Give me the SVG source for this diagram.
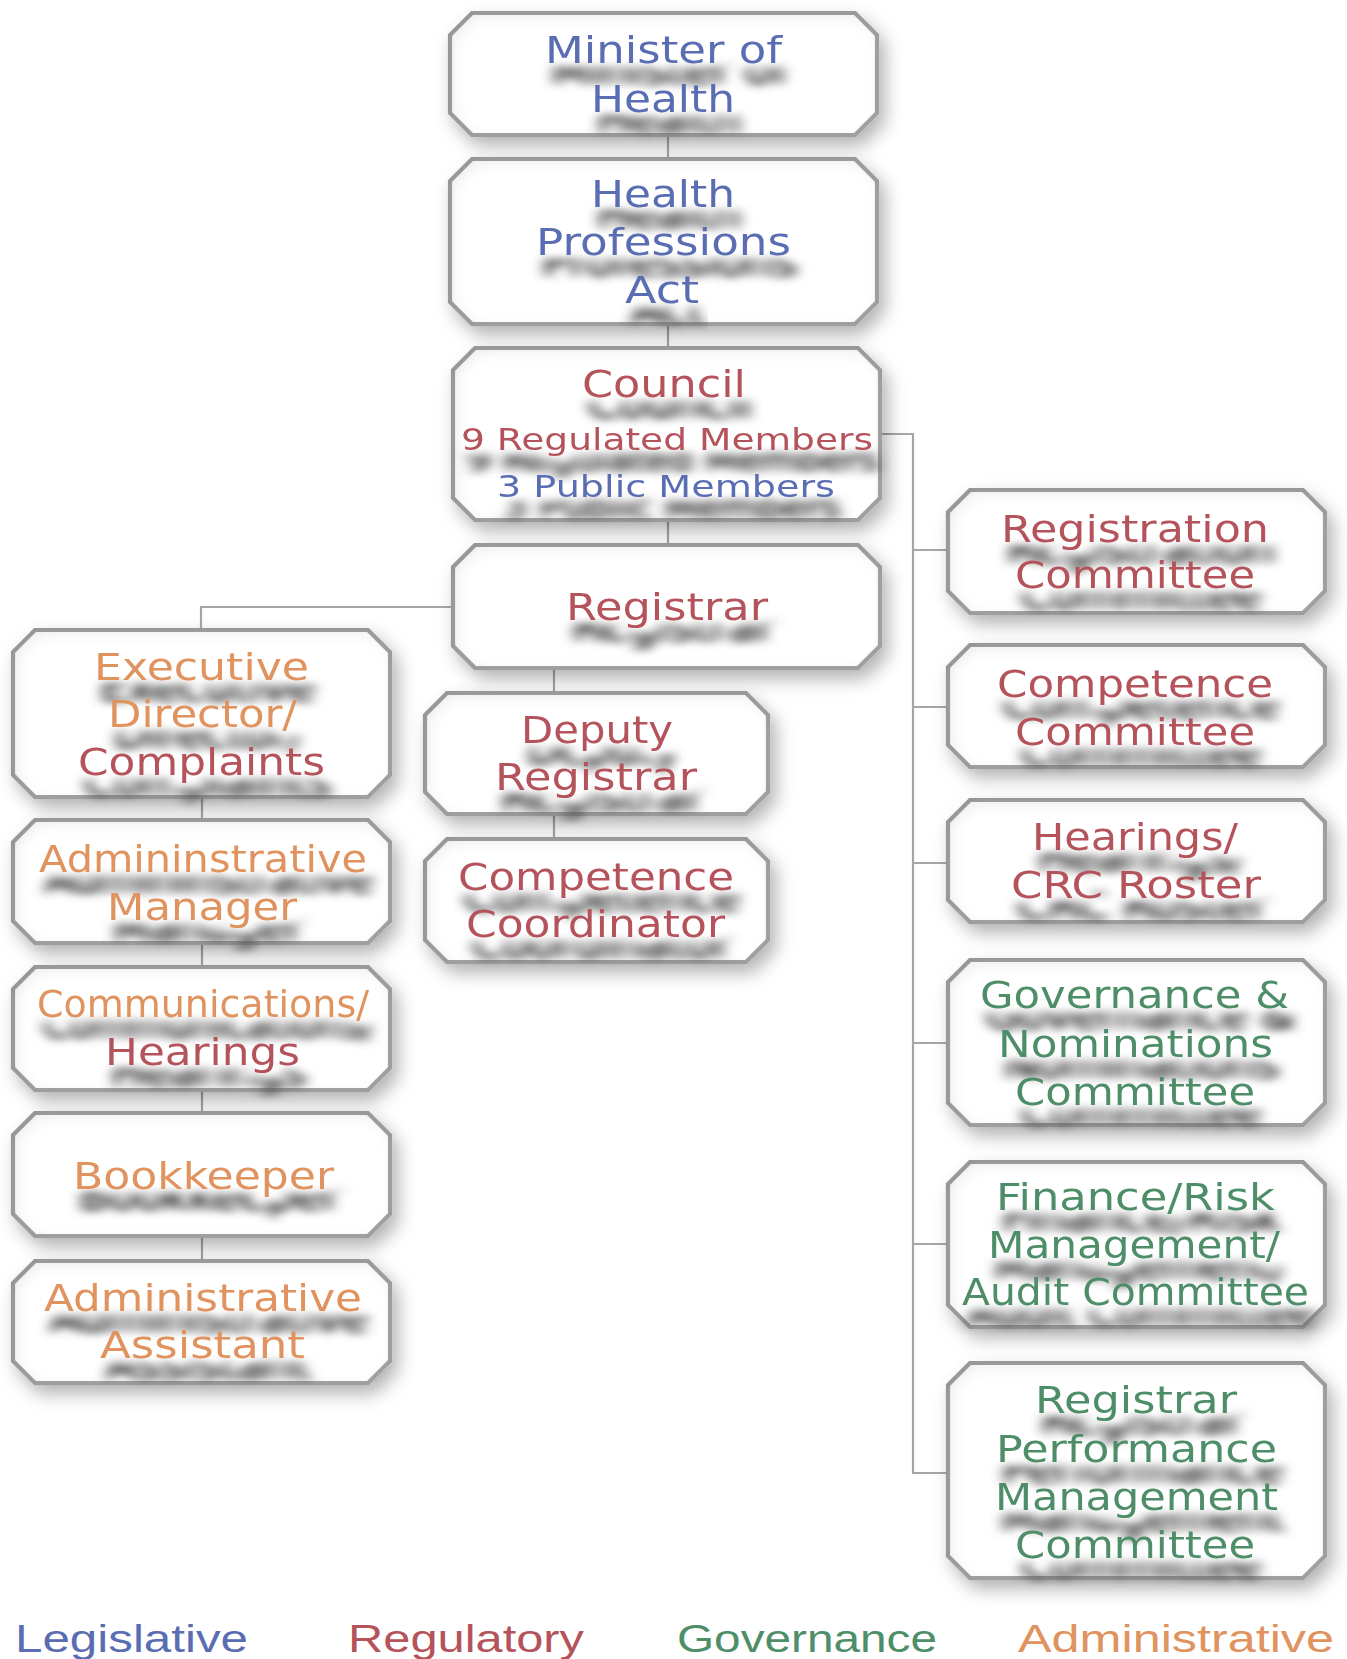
<svg xmlns="http://www.w3.org/2000/svg" width="1347" height="1659" viewBox="0 0 1347 1659">
<defs>
<style>
.box{fill:#fff;stroke:#a3a3a3;stroke-width:4.2;filter:url(#bs)}
.con{fill:none;stroke:#a6a6a6;stroke-width:2.2}
.t{font-family:"DejaVu Sans","Verdana",sans-serif;font-size:38px;filter:url(#ts)}
.s{font-size:30px}
.leg{font-family:"Liberation Sans",Arial,sans-serif;font-size:38px}
.b{fill:#5a6db3}.r{fill:#b5535b}.g{fill:#4e8e68}.o{fill:#e0935e}
</style>
<filter id="bs" x="-12%" y="-25%" width="130%" height="160%">
<feGaussianBlur in="SourceAlpha" stdDeviation="9" result="b"/>
<feOffset in="b" dx="6" dy="9" result="ob"/>
<feFlood flood-color="#000" flood-opacity="0.3"/>
<feComposite in2="ob" operator="in" result="outer"/>
<feComponentTransfer in="SourceAlpha" result="inv"><feFuncA type="table" tableValues="1 0"/></feComponentTransfer>
<feGaussianBlur in="inv" stdDeviation="8" result="ib"/>
<feOffset in="ib" dx="4" dy="4" result="ibo"/>
<feFlood flood-color="#000" flood-opacity="0.2"/>
<feComposite in2="ibo" operator="in" result="inner0"/>
<feComposite in="inner0" in2="SourceAlpha" operator="in" result="inner"/>
<feMerge><feMergeNode in="outer"/><feMergeNode in="SourceGraphic"/><feMergeNode in="inner"/></feMerge>
</filter>
<filter id="ts" x="-8%" y="-20%" width="120%" height="200%">
<feMorphology in="SourceAlpha" operator="dilate" radius="14 1" result="band"/>
<feOffset in="band" dx="0" dy="3" result="bandO"/>
<feOffset in="SourceAlpha" dx="6" dy="21" result="o"/>
<feComposite in="o" in2="bandO" operator="out" result="cut"/>
<feGaussianBlur in="cut" stdDeviation="7 4.5" result="bl"/>
<feComponentTransfer in="bl" result="bl2"><feFuncA type="linear" slope="1.7"/></feComponentTransfer>
<feFlood flood-color="#555" flood-opacity="1"/>
<feComposite in2="bl2" operator="in" result="s"/>
<feMerge><feMergeNode in="s"/><feMergeNode in="SourceGraphic"/></feMerge>
</filter>
</defs>
<rect width="1347" height="1659" fill="#fff"/>

<g id="connectors">
<path class="con" d="M668 135V159M668 324V348M668 520V545"/>
<path class="con" d="M554 668V693M554 814V839"/>
<path class="con" d="M453 607H201V630"/>
<path class="con" d="M202 797V820M202 943V967M202 1090V1113M202 1236V1261"/>
<path class="con" d="M880 434H913V1473H948M913 550H948M913 707H948M913 863H948M913 1043H948M913 1244H948"/>
</g>

<g id="minister">
<path class="box" d="M472 13H855L877 35V113L855 135H472L450 113V35Z"/>
<text class="t b" x="545" y="63" textLength="237" lengthAdjust="spacingAndGlyphs">Minister of</text>
<text class="t b" x="591" y="112" textLength="144" lengthAdjust="spacingAndGlyphs">Health</text>
</g>
<g id="hpa">
<path class="box" d="M472 159H855L877 181V302L855 324H472L450 302V181Z"/>
<text class="t b" x="591" y="207" textLength="144" lengthAdjust="spacingAndGlyphs">Health</text>
<text class="t b" x="536" y="255" textLength="255" lengthAdjust="spacingAndGlyphs">Professions</text>
<text class="t b" x="625" y="303" textLength="74" lengthAdjust="spacingAndGlyphs">Act</text>
</g>
<g id="council">
<path class="box" d="M475 348H858L880 370V498L858 520H475L453 498V370Z"/>
<text class="t r" x="582" y="397" textLength="164" lengthAdjust="spacingAndGlyphs">Council</text>
<text class="t s r" x="461" y="450" textLength="412" lengthAdjust="spacingAndGlyphs">9 Regulated Members</text>
<text class="t s b" x="497" y="497" textLength="338" lengthAdjust="spacingAndGlyphs">3 Public Members</text>
</g>
<g id="registrar">
<path class="box" d="M475 545H858L880 567V646L858 668H475L453 646V567Z"/>
<text class="t r" x="566" y="620" textLength="202" lengthAdjust="spacingAndGlyphs">Registrar</text>
</g>
<g id="exec-director">
<path class="box" d="M35 630H368L390 652V775L368 797H35L13 775V652Z"/>
<text class="t o" x="94" y="680" textLength="215" lengthAdjust="spacingAndGlyphs">Executive</text>
<text class="t o" x="108" y="727" textLength="189" lengthAdjust="spacingAndGlyphs">Director/</text>
<text class="t r" x="78" y="775" textLength="247" lengthAdjust="spacingAndGlyphs">Complaints</text>
</g>
<g id="admin-manager">
<path class="box" d="M35 820H368L390 842V921L368 943H35L13 921V842Z"/>
<text class="t o" x="39" y="872" textLength="328" lengthAdjust="spacingAndGlyphs">Admininstrative</text>
<text class="t o" x="107" y="920" textLength="190" lengthAdjust="spacingAndGlyphs">Manager</text>
</g>
<g id="communications">
<path class="box" d="M35 967H368L390 989V1068L368 1090H35L13 1068V989Z"/>
<text class="t o" x="37" y="1017" textLength="332" lengthAdjust="spacingAndGlyphs">Communications/</text>
<text class="t r" x="105" y="1065" textLength="195" lengthAdjust="spacingAndGlyphs">Hearings</text>
</g>
<g id="bookkeeper">
<path class="box" d="M35 1113H368L390 1135V1214L368 1236H35L13 1214V1135Z"/>
<text class="t o" x="73" y="1189" textLength="261" lengthAdjust="spacingAndGlyphs">Bookkeeper</text>
</g>
<g id="admin-assistant">
<path class="box" d="M35 1261H368L390 1283V1361L368 1383H35L13 1361V1283Z"/>
<text class="t o" x="44" y="1311" textLength="318" lengthAdjust="spacingAndGlyphs">Administrative</text>
<text class="t o" x="100" y="1358" textLength="205" lengthAdjust="spacingAndGlyphs">Assistant</text>
</g>
<g id="deputy-registrar">
<path class="box" d="M447 693H746L768 715V792L746 814H447L425 792V715Z"/>
<text class="t r" x="521" y="743" textLength="152" lengthAdjust="spacingAndGlyphs">Deputy</text>
<text class="t r" x="495" y="790" textLength="202" lengthAdjust="spacingAndGlyphs">Registrar</text>
</g>
<g id="competence-coordinator">
<path class="box" d="M447 839H746L768 861V940L746 962H447L425 940V861Z"/>
<text class="t r" x="458" y="890" textLength="276" lengthAdjust="spacingAndGlyphs">Competence</text>
<text class="t r" x="466" y="937" textLength="259" lengthAdjust="spacingAndGlyphs">Coordinator</text>
</g>
<g id="registration-committee">
<path class="box" d="M970 490H1303L1325 512V591L1303 613H970L948 591V512Z"/>
<text class="t r" x="1001" y="542" textLength="268" lengthAdjust="spacingAndGlyphs">Registration</text>
<text class="t r" x="1015" y="588" textLength="240" lengthAdjust="spacingAndGlyphs">Committee</text>
</g>
<g id="competence-committee">
<path class="box" d="M970 645H1303L1325 667V745L1303 767H970L948 745V667Z"/>
<text class="t r" x="997" y="697" textLength="276" lengthAdjust="spacingAndGlyphs">Competence</text>
<text class="t r" x="1015" y="745" textLength="240" lengthAdjust="spacingAndGlyphs">Committee</text>
</g>
<g id="hearings-crc">
<path class="box" d="M970 800H1303L1325 822V900L1303 922H970L948 900V822Z"/>
<text class="t r" x="1032" y="850" textLength="206" lengthAdjust="spacingAndGlyphs">Hearings/</text>
<text class="t r" x="1011" y="898" textLength="250" lengthAdjust="spacingAndGlyphs">CRC Roster</text>
</g>
<g id="governance-nominations">
<path class="box" d="M970 960H1303L1325 982V1103L1303 1125H970L948 1103V982Z"/>
<text class="t g" x="980" y="1008" textLength="309" lengthAdjust="spacingAndGlyphs">Governance &amp;</text>
<text class="t g" x="998" y="1057" textLength="275" lengthAdjust="spacingAndGlyphs">Nominations</text>
<text class="t g" x="1015" y="1105" textLength="240" lengthAdjust="spacingAndGlyphs">Committee</text>
</g>
<g id="finance-risk-audit">
<path class="box" d="M970 1162H1303L1325 1184V1305L1303 1327H970L948 1305V1184Z"/>
<text class="t g" x="996" y="1210" textLength="279" lengthAdjust="spacingAndGlyphs">Finance/Risk</text>
<text class="t g" x="988" y="1258" textLength="292" lengthAdjust="spacingAndGlyphs">Management/</text>
<text class="t g" x="962" y="1305" textLength="347" lengthAdjust="spacingAndGlyphs">Audit Committee</text>
</g>
<g id="registrar-performance">
<path class="box" d="M970 1363H1303L1325 1385V1556L1303 1578H970L948 1556V1385Z"/>
<text class="t g" x="1035" y="1413" textLength="202" lengthAdjust="spacingAndGlyphs">Registrar</text>
<text class="t g" x="996" y="1462" textLength="281" lengthAdjust="spacingAndGlyphs">Performance</text>
<text class="t g" x="995" y="1510" textLength="283" lengthAdjust="spacingAndGlyphs">Management</text>
<text class="t g" x="1015" y="1558" textLength="240" lengthAdjust="spacingAndGlyphs">Committee</text>
</g>

<g id="legend">
<text class="leg b" x="15" y="1652" textLength="233" lengthAdjust="spacingAndGlyphs">Legislative</text>
<text class="leg r" x="348" y="1652" textLength="236" lengthAdjust="spacingAndGlyphs">Regulatory</text>
<text class="leg g" x="677" y="1652" textLength="260" lengthAdjust="spacingAndGlyphs">Governance</text>
<text class="leg o" x="1018" y="1652" textLength="316" lengthAdjust="spacingAndGlyphs">Administrative</text>
</g>
</svg>
